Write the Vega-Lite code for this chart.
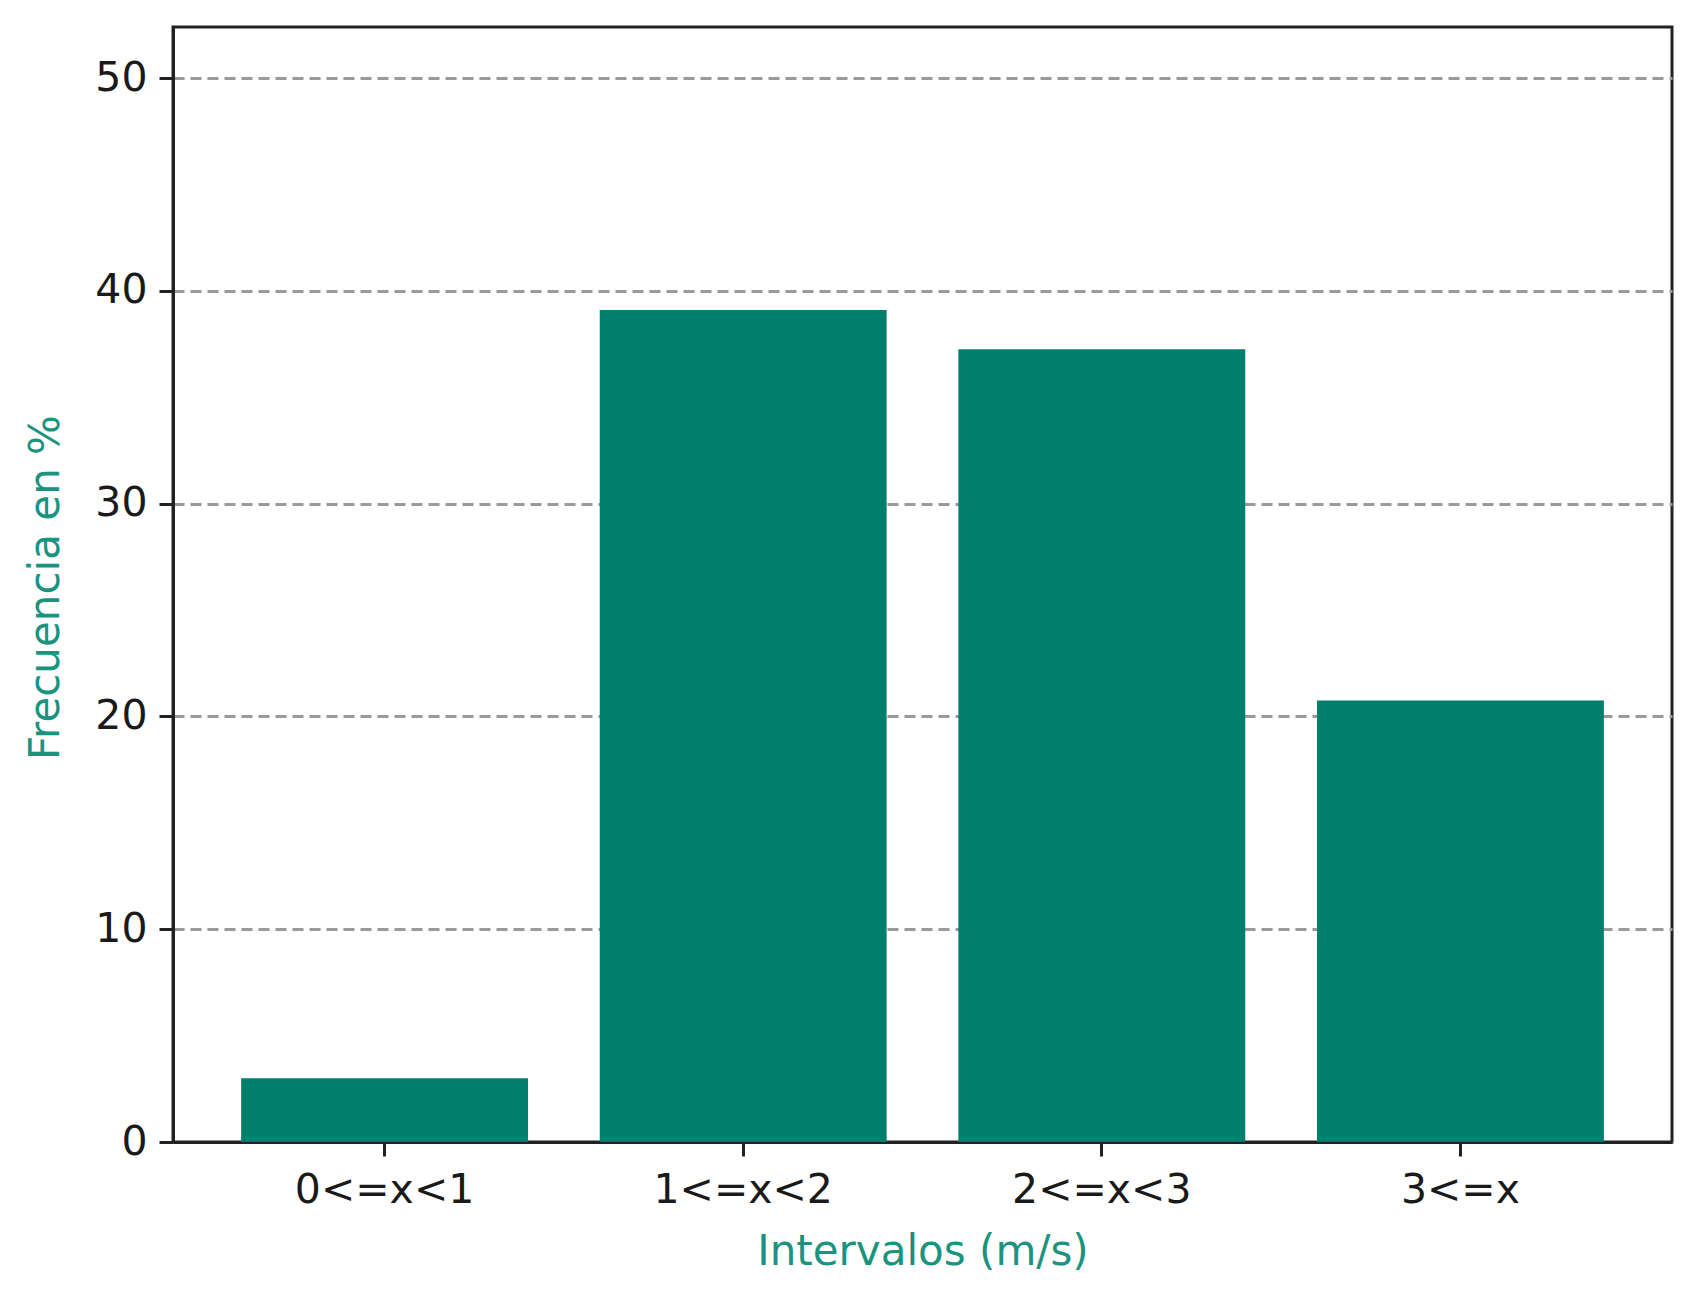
{
  "$schema": "https://vega.github.io/schema/vega-lite/v6.json",
  "autosize": "none",
  "width": 1499,
  "height": 1115,
  "padding": {"left": 173, "top": 27, "right": 28, "bottom": 161},
  "background": "white",
  "data": {
    "values": [
      {"intervalo": "0<=x<1", "frecuencia": 3.0},
      {"intervalo": "1<=x<2", "frecuencia": 39.1},
      {"intervalo": "2<=x<3", "frecuencia": 37.25},
      {"intervalo": "3<=x", "frecuencia": 20.75}
    ]
  },
  "mark": {"type": "bar", "color": "#007f6e"},
  "encoding": {
    "x": {
      "field": "intervalo",
      "type": "nominal",
      "sort": null,
      "scale": {"paddingInner": 0.2, "paddingOuter": 0.19},
      "axis": {
        "title": "Intervalos (m/s)",
        "labelAngle": 0,
        "titleY": 122,
        "titleBaseline": "alphabetic"
      }
    },
    "y": {
      "field": "frecuencia",
      "type": "quantitative",
      "scale": {"domain": [0, 52.4], "nice": false, "zero": true},
      "axis": {
        "title": "Frecuencia en %",
        "values": [0, 10, 20, 30, 40, 50],
        "grid": true,
        "gridDash": [11, 6],
        "gridColor": "#9a9a9a",
        "gridWidth": 3,
        "titleX": -128,
        "titleY": 560,
        "titleAngle": -90,
        "titleAlign": "center",
        "titleBaseline": "middle",
        "labelPadding": 12
      }
    }
  },
  "config": {
    "font": "DejaVu Sans",
    "view": {"stroke": "#222222", "strokeWidth": 3},
    "axis": {
      "labelFont": "DejaVu Sans",
      "titleFont": "DejaVu Sans",
      "labelFontSize": 41,
      "titleFontSize": 42,
      "titleFontWeight": "normal",
      "labelColor": "#1a1a1a",
      "titleColor": "#1a937f",
      "domainColor": "#222222",
      "domainWidth": 3,
      "tickColor": "#222222",
      "tickWidth": 3,
      "tickSize": 14,
      "labelPadding": 14
    },
    "axisX": {"grid": false}
  }
}
